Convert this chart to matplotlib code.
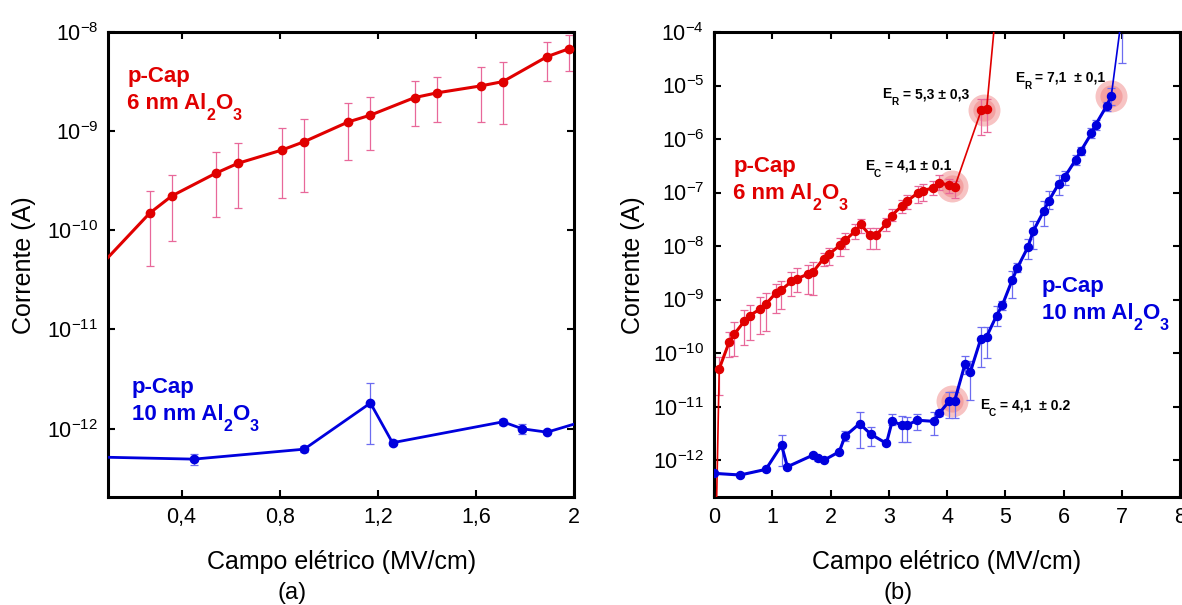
import numpy as np
import matplotlib
matplotlib.use("Agg")
import matplotlib.pyplot as plt
from matplotlib.ticker import FixedLocator, FuncFormatter, NullLocator

plt.rcParams["font.family"] = ["Liberation Sans", "DejaVu Sans"]
plt.rcParams["mathtext.fontset"] = "custom"
plt.rcParams["mathtext.rm"] = "Liberation Sans"

RED = "#e00000"
BLUE = "#0000dd"
RED_ERR = "#e8689a"
BLUE_ERR = "#6c6cf0"
HALO = "#ee7070"

# (a) low-field region, 0.1 - 2 MV/cm
a_red_field = [0.0, 0.27, 0.36, 0.54, 0.63, 0.81, 0.90, 1.08, 1.17, 1.35, 1.44, 1.62, 1.71, 1.89, 1.98]
a_red_cur = [2.9e-11, 1.49e-10, 2.22e-10, 3.77e-10, 4.74e-10, 6.46e-10, 7.83e-10, 1.24e-9,
             1.45e-9, 2.18e-9, 2.43e-9, 2.86e-9, 3.16e-9, 5.64e-9, 6.79e-9]
a_red_lo = [2.9e-11, 4.4e-11, 7.8e-11, 1.36e-10, 1.69e-10, 2.14e-10, 2.42e-10, 5.1e-10,
            6.46e-10, 1.12e-9, 1.24e-9, 1.24e-9, 1.17e-9, 3.18e-9, 4.05e-9]
a_red_hi = [2.9e-11, 2.49e-10, 3.59e-10, 6.1e-10, 7.55e-10, 1.07e-9, 1.32e-9, 1.94e-9,
            2.21e-9, 3.18e-9, 3.54e-9, 4.47e-9, 5.02e-9, 7.98e-9, 9.33e-9]

a_blue_field = [0.0, 0.45, 0.90, 1.17, 1.26, 1.71, 1.79, 1.89, 2.15]
a_blue_cur = [5.2e-13, 4.92e-13, 6.2e-13, 1.81e-12, 7.2e-13, 1.17e-12, 9.95e-13, 9.2e-13, 1.43e-12]
a_blue_lo = [5.2e-13, 4.3e-13, 5.8e-13, 7.0e-13, 6.8e-13, 1.08e-12, 8.8e-13, 8.8e-13, 1.43e-12]
a_blue_hi = [5.2e-13, 5.5e-13, 6.6e-13, 2.88e-12, 7.6e-13, 1.26e-12, 1.1e-12, 9.6e-13, 1.43e-12]

# (b) full sweep, 0 - 8 MV/cm
b_red_field = [0.04, 0.09, 0.26, 0.35, 0.52, 0.61, 0.79, 0.89, 1.06, 1.15, 1.33, 1.43, 1.61, 1.70,
               1.88, 1.97, 2.16, 2.25, 2.42, 2.52, 2.68, 2.78, 2.96, 3.05, 3.22, 3.31, 3.50, 3.59,
               3.76, 3.87, 4.04, 4.13, 4.59, 4.68, 4.85]
b_red_cur = [1e-13, 5.1e-11, 1.6e-10, 2.28e-10, 3.93e-10, 4.99e-10, 6.64e-10, 8.2e-10, 1.32e-9,
             1.5e-9, 2.18e-9, 2.47e-9, 2.98e-9, 3.28e-9, 5.82e-9, 7.0e-9, 1.03e-8, 1.28e-8, 1.88e-8,
             2.53e-8, 1.58e-8, 1.58e-8, 2.64e-8, 3.72e-8, 5.55e-8, 6.87e-8, 9.84e-8, 1.09e-7,
             1.22e-7, 1.51e-7, 1.37e-7, 1.25e-7, 3.49e-6, 3.6e-6, 3.5e-4]
b_red_lo = [1e-13, 1.62e-11, 8.3e-11, 8.9e-11, 1.42e-10, 1.78e-10, 2.28e-10, 2.63e-10, 5.52e-10,
            6.64e-10, 1.17e-9, 1.36e-9, 1.26e-9, 1.21e-9, 4.25e-9, 4.37e-9, 6.52e-9, 8.69e-9,
            1.33e-8, 1.77e-8, 8.69e-9, 8.69e-9, 1.9e-8, 2.92e-8, 4.18e-8, 4.95e-8, 6.41e-8,
            6.87e-8, 9.16e-8, 1.1e-7, 9.84e-8, 7.94e-8, 1.2e-6, 1.38e-6, 3.5e-4]
b_red_hi = [1e-13, 8.4e-11, 2.51e-10, 3.76e-10, 6.37e-10, 7.88e-10, 1.1e-9, 1.32e-9, 1.94e-9,
            2.23e-9, 3.28e-9, 3.96e-9, 4.37e-9, 5.04e-9, 7.31e-9, 9.33e-9, 1.43e-8, 1.77e-8,
            2.53e-8, 3.24e-8, 2.2e-8, 2.2e-8, 3.37e-8, 4.82e-8, 7.4e-8, 9.16e-8, 1.31e-7, 1.47e-7,
            1.62e-7, 2.16e-7, 1.79e-7, 1.62e-7, 5.52e-6, 5.52e-6, 3.5e-4]

b_blue_field = [0.0, 0.45, 0.89, 1.16, 1.26, 1.70, 1.79, 1.89, 2.15, 2.25, 2.50, 2.69, 2.96, 3.06,
                3.22, 3.31, 3.49, 3.77, 3.87, 4.04, 4.13, 4.31, 4.40, 4.58, 4.68, 4.85, 4.95, 5.12,
                5.21, 5.39, 5.48, 5.66, 5.75, 5.92, 6.02, 6.21, 6.30, 6.48, 6.55, 6.74, 6.82, 7.00]
b_blue_cur = [5.65e-13, 5.26e-13, 6.7e-13, 1.9e-12, 7.5e-13, 1.24e-12, 1.08e-12, 1.0e-12, 1.43e-12,
              2.8e-12, 4.8e-12, 3.05e-12, 2.05e-12, 5.4e-12, 4.48e-12, 4.48e-12, 5.55e-12, 5.3e-12,
              7.6e-12, 1.27e-11, 1.27e-11, 6.3e-11, 4.4e-11, 1.84e-10, 2.03e-10, 4.99e-10,
              7.88e-10, 2.33e-9, 3.96e-9, 9.6e-9, 1.9e-8, 4.48e-8, 7.08e-8, 1.47e-7, 1.95e-7,
              4.1e-7, 6.03e-7, 1.28e-6, 1.84e-6, 4.15e-6, 6.37e-6, 2.0e-4]
b_blue_lo = [5.65e-13, 4.8e-13, 6.2e-13, 7.6e-13, 6.9e-13, 1.14e-12, 9.8e-13, 9.5e-13, 1.35e-12,
             2.25e-12, 1.66e-12, 1.82e-12, 1.9e-12, 4.48e-12, 2.2e-12, 2.2e-12, 3.7e-12, 3.0e-12,
             6.6e-12, 6.2e-12, 6.2e-12, 4.1e-11, 1.3e-11, 5.5e-11, 8.0e-11, 3.25e-10, 6.5e-10,
             1.05e-9, 3.3e-9, 5.65e-9, 8.69e-9, 2.35e-8, 4.95e-8, 9.16e-8, 1.41e-7, 3.31e-7,
             5.1e-7, 1.04e-6, 1.48e-6, 3.35e-6, 4.33e-6, 2.6e-5]
b_blue_hi = [5.65e-13, 5.8e-13, 7.2e-13, 3.0e-12, 8.2e-13, 1.35e-12, 1.15e-12, 1.05e-12, 1.5e-12,
             3.47e-12, 7.9e-12, 4.1e-12, 2.2e-12, 7.2e-12, 6.6e-12, 6.4e-12, 7.2e-12, 7.9e-12,
             8.8e-12, 1.88e-11, 1.88e-11, 8.97e-11, 7.2e-11, 3.03e-10, 3.03e-10, 7.66e-10, 9.5e-10,
             3.43e-9, 4.8e-9, 1.37e-8, 2.92e-8, 6.87e-8, 1.05e-7, 2.16e-7, 2.48e-7, 5.08e-7,
             7.2e-7, 1.6e-6, 2.27e-6, 4.99e-6, 8.85e-6, 2.0e-4]

# highlighted points (indices into the (b) arrays)
red_ec_idx, red_er_idx = [30, 31], [32, 33]
blue_ec_idx, blue_er_idx = [19, 20], [40]


def draw_series(ax, x, y, lo, hi, color, ecolor, lw, ms, thin=None):
    x, y = np.asarray(x), np.asarray(y)
    yerr = [y - np.asarray(lo), np.asarray(hi) - y]
    ax.errorbar(x, y, yerr=yerr, fmt="none", ecolor=ecolor, elinewidth=0.9,
                capsize=3, capthick=0.9, zorder=2)
    if thin is not None:
        ax.plot(x, y, color=color, lw=lw * 0.55, zorder=3)
        sl = slice(*thin)
        ax.plot(x[sl], y[sl], color=color, lw=lw, zorder=3)
    else:
        ax.plot(x, y, color=color, lw=lw, zorder=3)
    ax.plot(x, y, "o", color=color, ms=ms, mec=color, zorder=4)


def halo(ax, x, y, idx):
    hx = np.mean(np.asarray(x)[idx])
    hy = 10 ** np.mean(np.log10(np.asarray(y)[idx]))
    ax.plot(hx, hy, "o", ms=23, color=HALO, alpha=0.42, mec="none", zorder=1)
    ax.plot(hx, hy, "o", ms=16, color=HALO, alpha=0.4, mec="none", zorder=1)


def chain_text(ax, x, y, parts, coords, size, color, weight="bold"):
    # write text pieces side by side, subscripts dropped below the baseline
    prev = None
    for s, sub in parts:
        fs = size * 0.72 if sub else size
        dy = -0.5 * size if sub else 0
        if prev is None:
            xy, xyc = (x, y), coords
        else:
            xy, xyc = (1, y), (prev, coords)
        prev = ax.annotate(s, xy=xy, xycoords=xyc, xytext=(0, dy), textcoords="offset points",
                           fontsize=fs, color=color, fontweight=weight, ha="left",
                           va="baseline", annotation_clip=False)


def sample_label(ax, x, y, thick, color):
    ax.text(x, y, "p-Cap", transform=ax.transAxes, fontsize=16, fontweight="bold",
            color=color, va="baseline")
    chain_text(ax, x, y - 0.058, [(thick + " nm Al", False), ("2", True), ("O", False), ("3", True)],
               "axes fraction", 16, color)


def style_axes(ax, xticks, xfmt, ymin_exp, ymax_exp):
    ax.set_yscale("log")
    ax.set_ylim(10 ** -12.69, 10 ** ymax_exp)
    ax.xaxis.set_major_locator(FixedLocator(xticks))
    ax.xaxis.set_major_formatter(FuncFormatter(xfmt))
    ax.yaxis.set_major_locator(FixedLocator([10.0 ** e for e in range(ymin_exp, ymax_exp + 1)]))
    ax.yaxis.set_major_formatter(FuncFormatter(
        lambda v, p: r"$\mathregular{10^{%d}}$" % round(np.log10(v))))
    ax.yaxis.set_minor_locator(NullLocator())
    ax.xaxis.set_minor_locator(NullLocator())
    ax.tick_params(which="major", direction="in", top=True, right=True, length=5,
                   width=1.5, labelsize=15.5, pad=7)
    for sp in ax.spines.values():
        sp.set_linewidth(2.2)


fig = plt.figure(figsize=(11.82, 6.05), dpi=100)
ax_a = fig.add_axes([108 / 1182, 1 - 497 / 605, 466 / 1182, 465 / 605])
ax_b = fig.add_axes([714 / 1182, 1 - 497 / 605, 466 / 1182, 465 / 605])

# (a)
draw_series(ax_a, a_red_field, a_red_cur, a_red_lo, a_red_hi, RED, RED_ERR, 2.2, 6)
draw_series(ax_a, a_blue_field, a_blue_cur, a_blue_lo, a_blue_hi, BLUE, BLUE_ERR, 2.0, 6)
ax_a.set_xlim(0.1, 2.0)
style_axes(ax_a, [0.4, 0.8, 1.2, 1.6, 2.0], lambda v, p: f"{v:g}".replace(".", ","), -12, -8)
sample_label(ax_a, 0.041, 0.893, "6", RED)
sample_label(ax_a, 0.051, 0.223, "10", BLUE)

# (b)
draw_series(ax_b, b_red_field, b_red_cur, b_red_lo, b_red_hi, RED, RED_ERR, 2.2, 5.8, thin=(1, 32))
draw_series(ax_b, b_blue_field, b_blue_cur, b_blue_lo, b_blue_hi, BLUE, BLUE_ERR, 2.2, 5.8,
            thin=(0, 41))
for idx in (red_ec_idx, red_er_idx):
    halo(ax_b, b_red_field, b_red_cur, idx)
for idx in (blue_ec_idx, blue_er_idx):
    halo(ax_b, b_blue_field, b_blue_cur, idx)
ax_b.set_xlim(0, 8)
style_axes(ax_b, range(0, 9), lambda v, p: f"{v:g}", -12, -4)
sample_label(ax_b, 0.041, 0.699, "6", RED)
sample_label(ax_b, 0.703, 0.4416, "10", BLUE)

chain_text(ax_b, 2.894, 10 ** -5.239, [("E", False), ("R", True), (" = 5,3 \u00b1 0,3", False)],
           "data", 10, "black")
chain_text(ax_b, 2.59, 10 ** -6.573, [("E", False), ("C", True), (" = 4,1 \u00b1 0.1", False)],
           "data", 10, "black")
chain_text(ax_b, 5.163, 10 ** -4.930, [("E", False), ("R", True), (" = 7,1  \u00b1 0,1", False)],
           "data", 10, "black")
chain_text(ax_b, 4.563, 10 ** -11.051, [("E", False), ("C", True), (" = 4,1  \u00b1 0.2", False)],
           "data", 10, "black")

for x_lab, x_tag, ax in ((342, 292, ax_a), (947, 898, ax_b)):
    fig.text(x_lab / 1182, 1 - 562 / 605, "Campo el\u00e9trico (MV/cm)", fontsize=18,
             ha="center", va="center")
    fig.text(x_tag / 1182, 1 - 593 / 605, "(a)" if ax is ax_a else "(b)", fontsize=17,
             ha="center", va="center")
for x_ylab in (24, 633):
    fig.text(x_ylab / 1182, 1 - 265 / 605, "Corrente (A)", fontsize=18, rotation=90,
             ha="center", va="center")

fig.savefig("out.png", dpi=100)
